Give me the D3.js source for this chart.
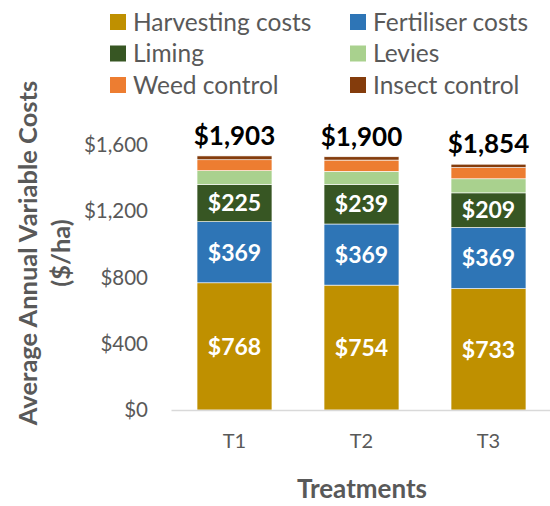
<!DOCTYPE html>
<html>
<head>
<meta charset="utf-8">
<script src="https://cdn.jsdelivr.net/npm/d3@7"></script>
<style>
  body { margin: 0; background: #fff; }
  svg { font-family: Lato, "Liberation Sans", sans-serif; }
</style>
</head>
<body>
<div class="chart"></div>
<script>
const treatments = ['T1', 'T2', 'T3'];
const seriesNames = ['Harvesting costs', 'Fertiliser costs', 'Liming', 'Levies', 'Weed control', 'Insect control'];
const seriesColors = ['#bf9000', '#2e75b6', '#375623', '#a9d18e', '#ed7d31', '#843c0c'];
const harvesting = [768, 754, 733];
const fertiliser = [369, 369, 369];
const liming = [225, 239, 209];
const levies = [83, 79, 85];
const weedControl = [66, 68, 68];
const insectControl = [23, 20, 20];
const totalLabels = ['$1,903', '$1,900', '$1,854'];
const yTicks = [0, 400, 800, 1200, 1600];
const labelledSeries = ['Harvesting costs', 'Fertiliser costs', 'Liming'];

const seriesValues = [harvesting, fertiliser, liming, levies, weedControl, insectControl];
const data = treatments.map(function(t, i) {
  const row = { treatment: t, total: totalLabels[i] };
  seriesNames.forEach(function(s, j) { row[s] = seriesValues[j][i]; });
  return row;
});

const svg = d3.select('.chart').append('svg').attr('width', 550).attr('height', 506);
const margin = { top: 145, left: 171 };
const width = 552 - 171, height = 410 - 145;

const x = d3.scaleBand().domain(treatments).range([0, width]).paddingInner(0.41).paddingOuter(0.205);
const y = d3.scaleLinear().domain([0, 1600]).range([height, 0]);

const g = svg.append('g').attr('transform', 'translate(' + margin.left + ',' + margin.top + ')');

const stack = d3.stack().keys(seriesNames)(data);

const layers = g.selectAll('.layer')
  .data(stack)
  .enter().append('g')
  .attr('class', 'layer')
  .attr('fill', function(d, i) { return seriesColors[i]; });

layers.selectAll('rect')
  .data(function(d) { return d; })
  .enter().append('rect')
  .attr('x', function(d) { return x(d.data.treatment); })
  .attr('y', function(d) { return y(d[1]); })
  .attr('height', function(d) { return y(d[0]) - y(d[1]); })
  .attr('width', x.bandwidth())
  .attr('stroke', '#fff')
  .attr('stroke-width', 0.6);

// segment labels
layers.filter(function(d) { return labelledSeries.indexOf(d.key) >= 0; })
  .selectAll('text')
  .data(function(d) { return d; })
  .enter().append('text')
  .attr('x', function(d) { return x(d.data.treatment) + x.bandwidth() / 2; })
  .attr('y', function(d) { return (y(d[0]) + y(d[1])) / 2; })
  .attr('dy', '0.36em')
  .attr('text-anchor', 'middle')
  .attr('fill', '#fff')
  .attr('font-size', 23)
  .attr('font-weight', 'bold')
  .text(function(d) { return '$' + (d[1] - d[0]); });

// totals
const topLayer = stack[stack.length - 1];
g.selectAll('.total')
  .data(topLayer)
  .enter().append('text')
  .attr('class', 'total')
  .attr('x', function(d) { return x(d.data.treatment) + x.bandwidth() / 2; })
  .attr('y', function(d) { return y(d[1]) - 11; })
  .attr('text-anchor', 'middle')
  .attr('font-size', 26)
  .attr('font-weight', 'bold')
  .attr('fill', '#000')
  .text(function(d) { return d.data.total; });

// axes
const yAxis = g.append('g')
  .call(d3.axisLeft(y).tickValues(yTicks).tickSize(0).tickPadding(23)
    .tickFormat(function(d) { return '$' + d3.format(',')(d); }));
yAxis.select('.domain').remove();
yAxis.selectAll('text').attr('font-size', 20.5).attr('fill', '#595959').attr('font-family', 'Lato, sans-serif');

const xAxis = g.append('g')
  .attr('transform', 'translate(0,' + height + ')')
  .call(d3.axisBottom(x).tickSize(0).tickPadding(24));
xAxis.select('.domain').attr('stroke', '#d9d9d9').attr('stroke-width', 1.5);
xAxis.selectAll('text').attr('font-size', 20).attr('fill', '#595959').attr('font-family', 'Lato, sans-serif');

// axis titles
const yTitle = svg.append('text')
  .attr('transform', 'translate(0,253) rotate(-90)')
  .attr('text-anchor', 'middle')
  .attr('font-size', 25.5)
  .attr('font-weight', 'bold')
  .attr('fill', '#595959');
yTitle.append('tspan').attr('x', 0).attr('y', 37).text('Average Annual Variable Costs');
yTitle.append('tspan').attr('x', 0).attr('y', 70).text('($/ha)');

svg.append('text')
  .attr('x', 362).attr('y', 498)
  .attr('text-anchor', 'middle')
  .attr('font-size', 26)
  .attr('font-weight', 'bold')
  .attr('fill', '#595959')
  .text('Treatments');

// legend
const legend = svg.selectAll('.legend')
  .data(seriesNames)
  .enter().append('g')
  .attr('transform', function(d, i) {
    return 'translate(' + (i % 2 === 0 ? 110 : 350) + ',' + (22 + Math.floor(i / 2) * 31.5) + ')';
  });
legend.append('rect')
  .attr('x', 0).attr('y', -8).attr('width', 16).attr('height', 16)
  .attr('fill', function(d, i) { return seriesColors[i]; });
legend.append('text')
  .attr('x', 23).attr('dy', '0.36em')
  .attr('font-size', 24.5)
  .attr('fill', '#595959')
  .text(function(d) { return d; });
</script>
</body>
</html>
